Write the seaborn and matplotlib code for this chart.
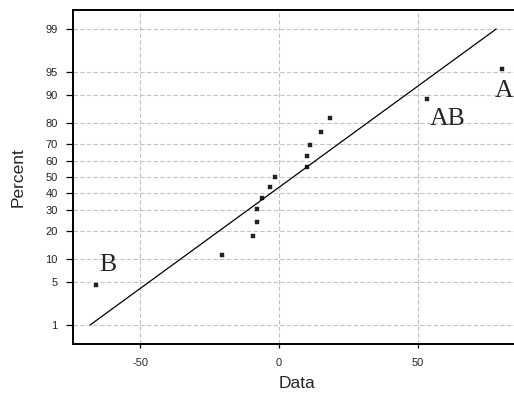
import numpy as np
import pandas as pd
import seaborn as sns
import matplotlib
matplotlib.use("Agg")
import matplotlib.pyplot as plt
from statistics import NormalDist

# Effect estimates and their normal-probability plotting positions (percent)
effects = [-65.7, -20.7, -9.35, -7.9, -7.9, -6.0, -3.1, -1.5,
           9.85, 10.2, 11.0, 15.1, 18.2, 53.2, 80.2]
percents = [4.5, 11.0, 17.5, 24.0, 30.5, 37.0, 43.5, 50.0,
            56.5, 63.0, 69.5, 76.0, 82.5, 89.0, 95.5]
labels = {"B": 0, "AB": 13, "A": 14}

y_ticks = [1, 5, 10, 20, 30, 40, 50, 60, 70, 80, 90, 95, 99]
x_ticks = [-50, 0, 50]

df = pd.DataFrame({"Data": effects, "Percent": percents})

# Fitted normal reference line (mean, population std) from 1% to 99%
mu = float(np.mean(effects))
sd = float(np.std(effects))
nd = NormalDist()
fit = pd.DataFrame({
    "Data": [mu + sd * nd.inv_cdf(0.01), mu + sd * nd.inv_cdf(0.99)],
    "Percent": [1.0, 99.0],
})

_ppf = np.vectorize(lambda p: nd.inv_cdf(min(max(p / 100.0, 1e-9), 1 - 1e-9)),
                    otypes=[float])
_cdf = np.vectorize(lambda z: nd.cdf(z) * 100.0, otypes=[float])


def forward(p):
    return _ppf(np.asarray(p, dtype=float))


def inverse(z):
    return _cdf(np.asarray(z, dtype=float))


sns.set_style("white")
plt.rcParams["font.family"] = ["Liberation Sans", "DejaVu Sans"]

W, H = 514, 398
fig = plt.figure(figsize=(W / 100, H / 100), dpi=100)
left, right, top, bottom = 73, 520, 10, 344
ax = fig.add_axes([left / W, 1 - bottom / H, (right - left) / W, (bottom - top) / H])

ax.set_yscale("function", functions=(forward, inverse))

sns.lineplot(data=fit, x="Data", y="Percent", ax=ax, color="black",
             linewidth=0.9, sort=False)
sns.scatterplot(data=df, x="Data", y="Percent", ax=ax, marker="s", s=7,
                color="#222222", edgecolor="#222222", linewidth=0.3)

ax.set_xlim(-74.1, 86.6)
ax.set_ylim(float(inverse(-2.625)), float(inverse(2.625)))
ax.set_yticks(y_ticks)
ax.set_yticklabels([str(t) for t in y_ticks])
ax.yaxis.set_minor_locator(matplotlib.ticker.NullLocator())
ax.set_xticks(x_ticks)
ax.set_xticklabels([str(t) for t in x_ticks])

ax.grid(True, color="#c4c4c4", linestyle=(0, (4, 2)), linewidth=0.8)
ax.set_axisbelow(True)
for s in ax.spines.values():
    s.set_color("black")
    s.set_linewidth(1.4)
ax.spines["right"].set_visible(False)

ax.tick_params(axis="y", which="major", direction="out", length=5, width=0.9,
               labelsize=8, pad=6, left=True, color="black")
ax.tick_params(axis="x", which="major", direction="out", length=3, width=0.9,
               labelsize=8, pad=7, bottom=True, color="black")

ax.set_xlabel("Data", fontsize=12.5, labelpad=6)
ax.set_ylabel("Percent", fontsize=12.5, labelpad=14)

# Labels for the notable effects
offsets = {"B": (3, 14, "left"), "AB": (3, -26, "left"), "A": (2, -28, "center")}
for name, idx in labels.items():
    dx, dy, ha = offsets[name]
    ax.annotate(name, xy=(effects[idx], percents[idx]), xytext=(dx, dy),
                textcoords="offset pixels", ha=ha, va="baseline",
                fontsize=18.5, family=["Liberation Serif", "DejaVu Serif"])

fig.savefig("out.png", dpi=100)
